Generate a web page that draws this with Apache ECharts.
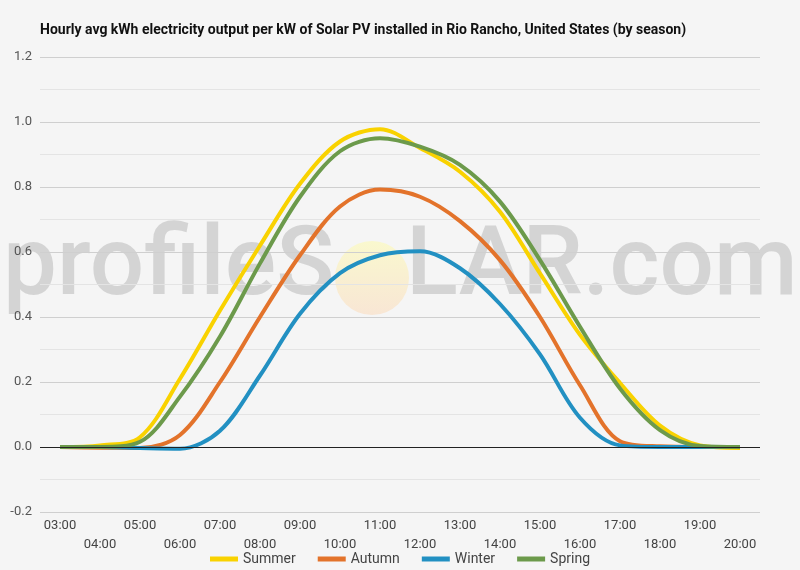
<!DOCTYPE html>
<html>
<head>
<meta charset="utf-8">
<script src="https://cdn.jsdelivr.net/npm/echarts@6/dist/echarts.min.js"></script>
<style>
  html, body { margin: 0; padding: 0; background: #f5f5f5; }
  #chartMount { width: 800px; height: 570px; }
</style>
</head>
<body>
<div id="chartMount"></div>
<script>
  // hourly values (kWh per kW)
  var hours = ['03:00','04:00','05:00','06:00','07:00','08:00','09:00','10:00','11:00',
               '12:00','13:00','14:00','15:00','16:00','17:00','18:00','19:00','20:00'];
  var summer = [0, 0.005, 0.03, 0.21, 0.42, 0.62, 0.81, 0.94, 0.978, 0.92, 0.847, 0.724, 0.534, 0.345, 0.197, 0.066, 0.005, -0.003];
  var autumn = [0, -0.002, -0.003, 0.037, 0.2, 0.4, 0.59, 0.74, 0.792, 0.77, 0.695, 0.575, 0.4, 0.19, 0.018, 0.002, 0, 0];
  var winter = [0, 0, -0.003, -0.005, 0.05, 0.22, 0.41, 0.535, 0.59, 0.602, 0.55, 0.44, 0.285, 0.09, 0.005, 0, 0, 0];
  var spring = [0, 0, 0.016, 0.155, 0.34, 0.565, 0.77, 0.91, 0.95, 0.924, 0.868, 0.755, 0.575, 0.37, 0.18, 0.052, 0.003, 0];
  var yTicks = [-0.2, 0, 0.2, 0.4, 0.6, 0.8, 1.0, 1.2];

  var app = echarts.init(document.getElementById('chartMount'));

  function line(name, color, data) {
    return {
      name: name,
      type: 'line',
      data: data,
      smooth: 0.33,
      symbol: 'none',
      lineStyle: { color: color, width: 4 },
      itemStyle: { color: color }
    };
  }

  var series = [
    line('Summer', '#f9d200', summer),
    line('Autumn', '#e3732b', autumn),
    line('Winter', '#2290c2', winter),
    line('Spring', '#6c9a4b', spring)
  ];
  // black zero line
  series[0].markLine = {
    silent: true, symbol: 'none', label: { show: false },
    lineStyle: { color: '#222', width: 1, type: 'solid' },
    data: [{ yAxis: 0 }]
  };

  var option = {
    backgroundColor: '#f5f5f5',
    animation: false,
    textStyle: { fontFamily: 'Roboto' },
    title: {
      text: 'Hourly avg kWh electricity output per kW of Solar PV installed in Rio Rancho, United States (by season)',
      left: 35, top: 18,
      textStyle: { fontSize: 14, fontWeight: 'bold', color: '#111', fontFamily: 'Roboto' }
    },
    legend: {
      top: 547, left: 'center',
      itemWidth: 28, itemHeight: 5, itemGap: 22,
      icon: 'rect',
      textStyle: { fontSize: 14, color: '#444' },
      data: ['Summer', 'Autumn', 'Winter', 'Spring']
    },
    grid: { left: 40, right: 40, top: 57, bottom: 58 },
    xAxis: {
      type: 'category',
      data: hours,
      boundaryGap: true,
      axisLine: { show: false },
      axisTick: { show: false },
      axisLabel: {
        interval: 0, margin: 4, fontSize: 13, color: '#444', lineHeight: 19,
        formatter: function (v, i) { return i % 2 ? '\n' + v : v; }
      }
    },
    yAxis: {
      type: 'value',
      min: yTicks[0], max: yTicks[yTicks.length - 1], interval: 0.2,
      axisLine: { show: false },
      axisTick: { show: false },
      axisLabel: { fontSize: 13, color: '#555', margin: 8, formatter: function (v) { return v.toFixed(1); } },
      splitLine: { lineStyle: { color: '#cfcfcf', width: 1 } },
      minorTick: { show: false, splitNumber: 2 },
      minorSplitLine: { show: true, lineStyle: { color: '#e4e4e4', width: 1 } }
    },
    graphic: [{
      type: 'group', z: 100, silent: true,
      children: [
        { type: 'text', left: 3, top: 222,
          style: { text: 'profileS', font: '500 96px Roboto', fill: 'rgba(110,110,110,0.24)' } },
        { type: 'circle', shape: { cx: 372, cy: 278, r: 37 },
          style: { fill: new echarts.graphic.LinearGradient(0, 0, 0, 1, [
            { offset: 0, color: 'rgba(252,250,185,0.65)' },
            { offset: 1, color: 'rgba(250,222,195,0.65)' }
          ]) } },
        { type: 'text', left: 406, top: 222,
          style: { text: 'LAR.com', font: '500 96px Roboto', fill: 'rgba(110,110,110,0.24)' } }
      ]
    }],
    series: series
  };

  app.setOption(option);
</script>
</body>
</html>
